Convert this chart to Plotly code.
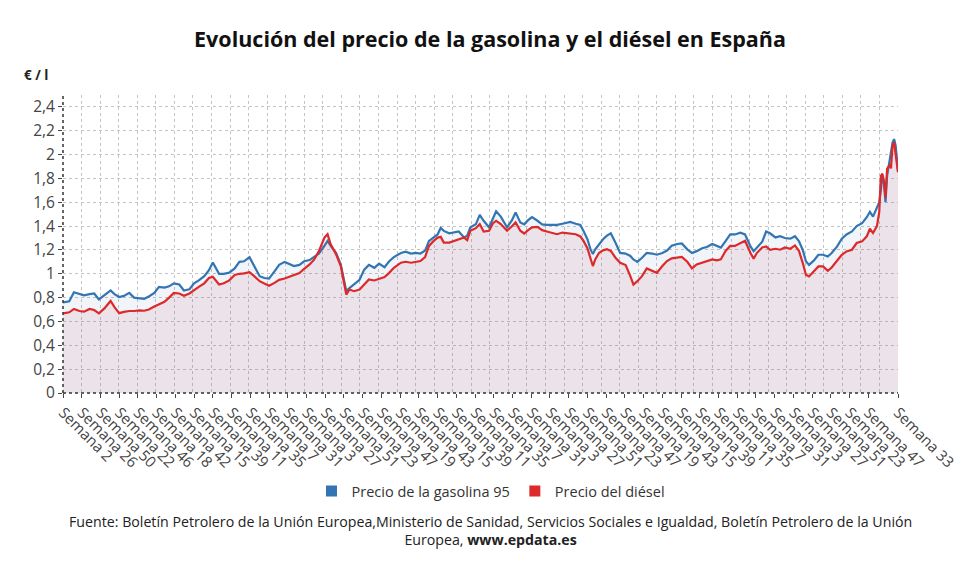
import numpy as np
import plotly.graph_objects as go

# indice semanal desde el comienzo de la serie (Semana 2 = 0)
semana = [
    0, 8, 14, 21, 27, 34, 40, 46, 53, 61, 66, 72, 78, 85, 91, 98, 104, 110, 117, 123,
    130, 136, 142, 149, 155, 162, 168, 174, 181, 187, 192, 200, 206, 213,
    220, 226, 232, 239, 245, 252, 258, 264, 271, 277, 284, 290, 296, 303, 309, 316,
    322, 328, 335, 339, 343, 350, 356, 360, 363, 367, 373, 380, 386, 392, 399, 405, 412, 418, 424,
    433, 439, 446, 452, 458, 464, 469, 475, 480, 484, 488, 495, 501, 507, 514, 518, 522, 529,
    534, 539, 546, 551, 555, 561, 565, 569, 575, 580, 586, 591, 596, 601, 608, 614, 620, 627, 633, 640,
    650, 657, 663, 667, 672, 676, 679, 682, 687, 692, 697, 702, 708, 714, 721, 727, 731, 736, 742, 748,
    755, 761, 768, 774, 780, 787, 793, 800, 806, 812, 819, 825, 832, 838, 843, 849, 855, 861, 868,
    874, 881, 885, 889, 896, 901, 906, 913, 919, 925, 932, 938, 943, 948, 952, 956, 962, 968, 974, 980,
    985, 992, 998, 1004, 1011, 1017, 1024, 1030, 1034, 1038,
    1043, 1046, 1048, 1050, 1052, 1054, 1056, 1059, 1061, 1063, 1065, 1067, 1070,
]

# precio de la gasolina 95 (€/l)
gasolina = [
    0.76, 0.77, 0.845, 0.83, 0.82, 0.83, 0.835, 0.785, 0.82, 0.86, 0.83, 0.805, 0.815, 0.84, 0.80, 0.795, 0.79, 0.81, 0.84, 0.89,
    0.885, 0.895, 0.92, 0.91, 0.86, 0.87, 0.92, 0.945, 0.98, 1.03, 1.095, 1.0, 1.0, 1.01,
    1.045, 1.10, 1.105, 1.14, 1.065, 0.98, 0.965, 0.96, 1.02, 1.075, 1.10, 1.08, 1.065, 1.075, 1.105, 1.115,
    1.14, 1.17, 1.235, 1.275, 1.235, 1.175, 1.075, 0.96, 0.855, 0.88, 0.915, 0.95, 1.035, 1.075, 1.05, 1.085, 1.055, 1.105, 1.14,
    1.175, 1.185, 1.17, 1.175, 1.17, 1.195, 1.275, 1.305, 1.33, 1.385, 1.36, 1.34, 1.345, 1.355, 1.305, 1.32, 1.39, 1.415,
    1.495, 1.445, 1.39, 1.46, 1.525, 1.48, 1.43, 1.39, 1.445, 1.515, 1.43, 1.415, 1.45, 1.475, 1.445, 1.415, 1.41, 1.41, 1.41, 1.42,
    1.435, 1.42, 1.41, 1.36, 1.29, 1.205, 1.165, 1.205, 1.25, 1.29, 1.32, 1.34, 1.26, 1.175, 1.17, 1.15, 1.12, 1.10, 1.135, 1.175,
    1.17, 1.16, 1.175, 1.195, 1.235, 1.25, 1.255, 1.205, 1.175, 1.19, 1.215, 1.225, 1.25, 1.235, 1.22, 1.275, 1.33, 1.33, 1.345,
    1.33, 1.23, 1.19, 1.22, 1.27, 1.355, 1.34, 1.305, 1.315, 1.30, 1.295, 1.315, 1.275, 1.20, 1.105, 1.075, 1.11, 1.16, 1.16, 1.145,
    1.175, 1.23, 1.295, 1.33, 1.355, 1.40, 1.425, 1.475, 1.52, 1.48,
    1.56, 1.60, 1.70, 1.82, 1.76, 1.60, 1.82, 1.94, 2.005, 2.10, 2.13, 2.075, 1.865,
]

# precio del diesel (€/l)
diesel = [
    0.668, 0.677, 0.705, 0.688, 0.682, 0.705, 0.696, 0.668, 0.71, 0.772, 0.72, 0.67, 0.68, 0.688, 0.688, 0.693, 0.69, 0.70, 0.725, 0.745,
    0.765, 0.80, 0.84, 0.835, 0.815, 0.835, 0.865, 0.89, 0.92, 0.965, 0.975, 0.91, 0.92, 0.945,
    0.99, 1.0, 1.003, 1.014, 0.98, 0.938, 0.918, 0.90, 0.924, 0.949, 0.96, 0.975, 0.986, 1.006, 1.042, 1.079,
    1.121, 1.192, 1.304, 1.332, 1.248, 1.163, 1.065, 0.944, 0.825, 0.868, 0.854, 0.868, 0.91, 0.952, 0.944, 0.96, 0.972, 1.008, 1.05,
    1.093, 1.101, 1.093, 1.101, 1.107, 1.141, 1.234, 1.276, 1.304, 1.31, 1.262, 1.262, 1.276, 1.29, 1.304, 1.282, 1.361, 1.383,
    1.417, 1.355, 1.361, 1.425, 1.445, 1.417, 1.389, 1.361, 1.397, 1.431, 1.361, 1.338, 1.366, 1.389, 1.394, 1.366, 1.355, 1.346, 1.332, 1.346,
    1.338, 1.332, 1.313, 1.276, 1.214, 1.121, 1.065, 1.121, 1.177, 1.197, 1.206, 1.192, 1.135, 1.093, 1.073, 0.98, 0.91, 0.938, 0.98, 1.045,
    1.023, 1.008, 1.065, 1.107, 1.13, 1.135, 1.141, 1.101, 1.045, 1.079, 1.093, 1.107, 1.121, 1.113, 1.121, 1.192, 1.234, 1.234, 1.254,
    1.277, 1.174, 1.126, 1.174, 1.221, 1.23, 1.202, 1.21, 1.202, 1.221, 1.21, 1.238, 1.193, 1.09, 0.992, 0.978, 1.02, 1.062, 1.062, 1.025,
    1.053, 1.109, 1.16, 1.188, 1.202, 1.258, 1.272, 1.314, 1.378, 1.342,
    1.40, 1.52, 1.82, 1.84, 1.78, 1.64, 1.88, 1.91, 1.885, 2.075, 2.103, 2.0, 1.851,
]

# etiquetas del eje x: una cada 24 semanas y la ultima semana
num_etiquetas = [2, 26, 50, 22, 46, 18, 42, 15, 39, 11, 35, 7, 31, 3, 27, 51, 23, 47, 19, 43,
                 15, 39, 11, 35, 7, 31, 3, 27, 51, 23, 47, 19, 43, 15, 39, 11, 35, 7, 31, 3,
                 27, 51, 23, 47, 33]
etiquetas = [f"Semana {n}" for n in num_etiquetas]
pos_etiquetas = [24 * i for i in range(len(etiquetas) - 1)] + [semana[-1]]

AZUL = "rgb(50,117,178)"
ROJO = "rgb(221,41,41)"
FUENTE = "Open Sans"

# la pagina tiene 8px de margen en el body: figura algo mas pequeña
W, H = 972, 567
# area del grafico en pixeles de la ventana: x 63..898, y 95..393
L, T, R, B = 63 - 8, 95 - 8, 980 - 898, 575 - 393


def px_x(x):
    return (x - 63) / 835


def px_y(y):
    return (393 - y) / 298


fig = go.Figure()

fig.add_trace(go.Scatter(x=semana, y=gasolina, mode="lines", name="Precio de la gasolina 95",
                         line=dict(color=AZUL, width=2.2), fill="tozeroy",
                         fillcolor="rgba(50,117,178,0.07)", showlegend=False))
fig.add_trace(go.Scatter(x=semana, y=diesel, mode="lines", name="Precio del diésel",
                         line=dict(color=ROJO, width=2.2), fill="tozeroy",
                         fillcolor="rgba(190,40,70,0.09)", showlegend=False))

# entradas de leyenda con cuadrados (tambien sirven para dibujar el eje de la rejilla)
for nombre, color in [("Precio de la gasolina 95", AZUL), ("Precio del diésel", ROJO)]:
    fig.add_trace(go.Scatter(x=[None], y=[None], mode="markers", name=nombre, xaxis="x2",
                             marker=dict(symbol="square", size=11, color=color)))

fig.update_layout(
    width=W, height=H,
    paper_bgcolor="white", plot_bgcolor="white",
    margin=dict(l=L, r=R, t=T, b=B, autoexpand=False),
    separators=",.",
    font=dict(family=FUENTE, color="#444"),
    title=dict(text="<b>Evolución del precio de la gasolina y el diésel en España</b>",
               x=(490 - 8) / W, xref="container", xanchor="center",
               y=1 - (39 - 8) / H, yref="container", yanchor="middle",
               font=dict(size=21.5, color="#111", family=FUENTE)),
    xaxis=dict(range=[0, semana[-1]], tickmode="array", tickvals=pos_etiquetas, ticktext=etiquetas,
               tickangle=45, showgrid=False, zeroline=False, showline=False, automargin=False,
               ticks="outside", ticklen=4, tickcolor="#444",
               tickfont=dict(size=15, color="#444")),
    xaxis2=dict(range=[0, semana[-1]], overlaying="x", side="bottom", automargin=False,
                tickmode="array", tickvals=np.linspace(0, semana[-1], 46),
                showticklabels=False, ticks="", showgrid=True, griddash="dot",
                gridcolor="#c4c4c4", gridwidth=1, zeroline=False, showline=False),
    yaxis=dict(range=[0, 2.5], tick0=0, dtick=0.2, showgrid=True, griddash="dot",
               gridcolor="#c4c4c4", gridwidth=1, zeroline=False, showline=False, automargin=False,
               ticks="outside", ticklen=4, tickcolor="#444",
               tickfont=dict(size=15.5, color="#444")),
    legend=dict(orientation="h", x=px_x(491), xanchor="center",
                y=px_y(491), yanchor="middle", itemwidth=30,
                font=dict(size=14.5, color="#333"), bgcolor="rgba(0,0,0,0)"),
    shapes=[
        dict(type="line", xref="paper", yref="paper", x0=0, x1=0, y0=0, y1=1,
             line=dict(color="#333", width=1.5, dash="dot")),
        dict(type="line", xref="paper", yref="paper", x0=0, x1=1, y0=0, y1=0,
             line=dict(color="#333", width=1.5, dash="dot")),
    ],
    annotations=[
        dict(text="<b>€ / l</b>", xref="paper", yref="paper", x=px_x(36), y=px_y(75),
             xanchor="center", yanchor="middle", showarrow=False,
             font=dict(size=13.5, color="#222")),
        dict(text="Fuente: Boletín Petrolero de la Unión Europea,Ministerio de Sanidad, Servicios Sociales e Igualdad, "
                  "Boletín Petrolero de la Unión<br>Europea, <b>www.epdata.es</b>",
             xref="paper", yref="paper", x=px_x(490), y=px_y(530.5),
             xanchor="center", yanchor="middle", showarrow=False, align="center",
             font=dict(size=14.2, color="#222")),
    ],
)

fig.write_html("out.html")
